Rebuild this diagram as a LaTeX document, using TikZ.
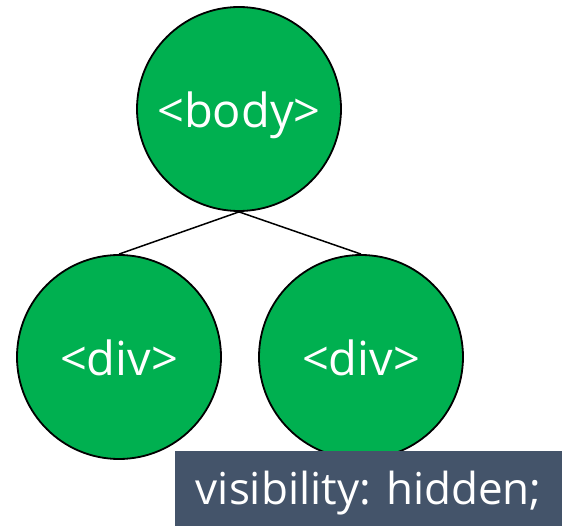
\documentclass[tikz,border=0pt]{standalone}
\usepackage{fontspec}
\setmainfont{Open Sans}
\definecolor{nodegreen}{HTML}{00B050}
\definecolor{slate}{HTML}{44546A}
\begin{document}
\begin{tikzpicture}[x=1pt, y=-1pt,
    tag/.style={circle, draw=black, line width=1.8pt, fill=nodegreen, text=white,
      minimum size=204pt, inner sep=0pt, font=\fontsize{47}{50}\selectfont,
      text height=38pt, text depth=0pt},
    edge/.style={line width=1.5pt},
    note/.style={fill=slate, text=white, anchor=north west, inner sep=0pt,
      minimum width=387pt, minimum height=75pt, font=\fontsize{44}{48}\selectfont,
      text height=31pt, text depth=0pt}]
  \useasboundingbox (0,0) rectangle (562,526);
  % Arbol
  \node[tag] (body) at (239,109) {<body>};
  \node[tag] (divl) at (119,357) {<div>};
  \node[tag] (divr) at (361,357) {<div>};
  \draw[edge] (body.south) -- (divl.north);
  \draw[edge] (body.south) -- (divr.north);
  % Etiqueta
  \node[note] (hid) at (175,451) {visibility: hidden;};
\end{tikzpicture}
\end{document}
